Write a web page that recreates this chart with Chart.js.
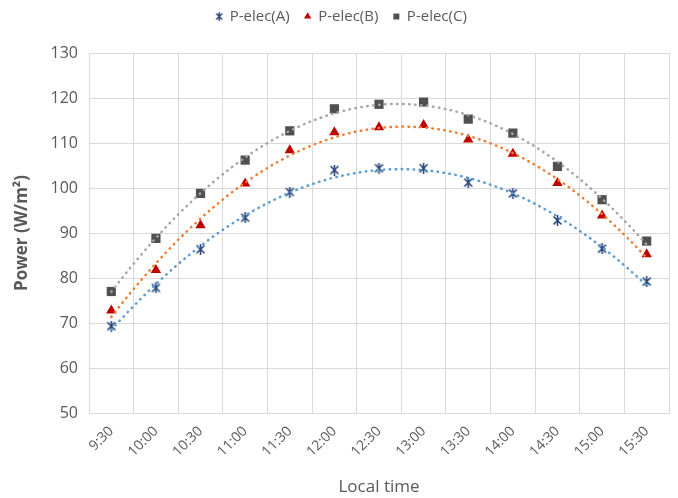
<!DOCTYPE html>
<html>
<head>
<meta charset="utf-8">
<script src="https://cdn.jsdelivr.net/npm/chart.js@4.4.1/dist/chart.umd.min.js"></script>
<style>
  html, body { margin: 0; padding: 0; background: #fff; }
  #wrap { width: 678px; height: 498px; }
</style>
</head>
<body>
<div id="wrap"><canvas id="chart" width="678" height="498"></canvas></div>
<script>
// --- Data ---
const timeLabels = ['9:30', '10:00', '10:30', '11:00', '11:30', '12:00', '12:30',
                    '13:00', '13:30', '14:00', '14:30', '15:00', '15:30'];
const pElecA = [69.3, 77.8, 86.4, 93.4, 99.1, 104.0, 104.4, 104.4, 101.2, 98.8, 92.8, 86.5, 79.2];
const pElecB = [72.8, 81.8, 91.7, 101.0, 108.4, 112.4, 113.5, 114.0, 110.8, 107.6, 101.1, 93.9, 85.3];
const pElecC = [77.0, 88.8, 98.8, 106.2, 112.7, 117.6, 118.6, 119.1, 115.3, 112.2, 104.8, 97.4, 88.2];
const yTicks = [50, 60, 70, 80, 90, 100, 110, 120, 130];

const GRID = '#D9D9D9';
const TEXT = '#595959';
Chart.defaults.font.family = '"Open Sans", Lato, sans-serif';
Chart.defaults.color = TEXT;

// Excel-style "star" marker: X with a vertical bar
function starMarker(color, size, lw) {
    const c = document.createElement('canvas');
    c.width = size; c.height = size;
    const g = c.getContext('2d');
    const a = 1, b = size - 1, m = size / 2;
    g.strokeStyle = color;
    g.lineWidth = lw;
    g.beginPath();
    g.moveTo(a + 0.5, a + 0.5); g.lineTo(b - 0.5, b - 0.5);
    g.moveTo(b - 0.5, a + 0.5); g.lineTo(a + 0.5, b - 0.5);
    g.moveTo(m, 0); g.lineTo(m, size);
    g.stroke();
    return c;
}

// polynomial (order 2) trendline, least squares over the series, like Excel's
function quadTrend(values) {
    let s = [0, 0, 0, 0, 0], t = [0, 0, 0];
    values.forEach((y, x) => {
        for (let k = 0; k < 5; k++) s[k] += Math.pow(x, k);
        for (let k = 0; k < 3; k++) t[k] += y * Math.pow(x, k);
    });
    const m = [[s[0], s[1], s[2], t[0]], [s[1], s[2], s[3], t[1]], [s[2], s[3], s[4], t[2]]];
    for (let i = 0; i < 3; i++) {
        for (let j = i + 1; j < 3; j++) {
            const f = m[j][i] / m[i][i];
            for (let k = i; k < 4; k++) m[j][k] -= f * m[i][k];
        }
    }
    const c = [0, 0, 0];
    for (let i = 2; i >= 0; i--) {
        let v = m[i][3];
        for (let k = i + 1; k < 3; k++) v -= m[i][k] * c[k];
        c[i] = v / m[i][i];
    }
    const pts = [];
    const last = values.length - 1;
    for (let x = 0; x <= last + 1e-9; x += 0.125) pts.push({ x, y: c[0] + c[1] * x + c[2] * x * x });
    return pts;
}

const toXY = arr => arr.map((y, x) => ({ x, y }));

function trendSet(values, color) {
    return {
        label: 'trend', data: quadTrend(values), xAxisID: 'xl', order: 0,
        borderColor: color, borderWidth: 2.5, borderDash: [0.5, 5.5], borderCapStyle: 'round',
        pointRadius: 0, fill: false, tension: 0
    };
}

// legend block takes the strip above the plot; items nudged a little
const legendSpace = {
    id: 'legendSpace',
    beforeInit(chart) {
        const lg = chart.legend;
        const fit = lg.fit, draw = lg.draw;
        lg.fit = function () { fit.call(this); this.height = 53; };
        lg.draw = function () {
            this.ctx.save();
            this.ctx.translate(7, -6);
            draw.call(this);
            this.ctx.restore();
        };
    }
};

new Chart(document.getElementById('chart'), {
    type: 'line',
    data: {
        labels: timeLabels,
        datasets: [
            { label: 'P-elec(A)', data: toXY(pElecA), xAxisID: 'xl', order: 1, showLine: false,
              pointStyle: starMarker('#264478', 11, 1.6), pointRadius: 5, borderColor: '#264478', backgroundColor: '#264478' },
            { label: 'P-elec(B)', data: toXY(pElecB), xAxisID: 'xl', order: 1, showLine: false,
              pointStyle: 'triangle', pointRadius: 6, borderWidth: 0, borderColor: '#C00000', backgroundColor: '#C00000' },
            { label: 'P-elec(C)', data: toXY(pElecC), xAxisID: 'xl', order: 1, showLine: false,
              pointStyle: 'rect', pointRadius: 6.5, borderWidth: 0, borderColor: '#505050', backgroundColor: '#505050' },
            trendSet(pElecA, '#5B9BD5'),
            trendSet(pElecB, '#ED7D31'),
            trendSet(pElecC, '#A5A5A5')
        ]
    },
    options: {
        responsive: false,
        animation: false,
        layout: { padding: { left: 0, right: 9, top: 0, bottom: 0 } },
        plugins: {
            tooltip: { enabled: false },
            legend: {
                position: 'top',
                labels: {
                    usePointStyle: true, boxWidth: 6, boxHeight: 6, padding: 15,
                    font: { size: 15 }, color: TEXT,
                    filter: item => item.datasetIndex < 3,
                    generateLabels: chart => Chart.defaults.plugins.legend.labels.generateLabels(chart).map(l => {
                        if (l.datasetIndex === 0) l.pointStyle = starMarker('#264478', 9, 1.4);
                        return l;
                    })
                }
            }
        },
        scales: {
            x: {
                type: 'category',
                offset: true,
                grid: { offset: true, color: GRID, drawTicks: false },
                border: { color: GRID },
                ticks: { minRotation: 45, maxRotation: 45, padding: 10, font: { size: 14 }, color: TEXT },
                title: { display: true, text: 'Local time', font: { size: 17 }, color: TEXT, padding: { top: 4, bottom: 1 } },
                afterFit: s => { s.height = 85; }
            },
            xl: { type: 'linear', display: false, min: -0.5, max: timeLabels.length - 0.5 },
            y: {
                min: yTicks[0], max: yTicks[yTicks.length - 1],
                afterBuildTicks: s => { s.ticks = yTicks.map(v => ({ value: v })); },
                grid: { color: GRID, drawTicks: false },
                border: { color: GRID },
                ticks: { padding: 11, font: { size: 16 }, color: TEXT },
                title: { display: true, text: 'Power (W/m²)', font: { size: 17, weight: 'bold' }, color: TEXT, padding: { top: 12, bottom: 0 } },
                afterFit: s => { s.width = 89; }
            }
        }
    },
    plugins: [legendSpace]
});
</script>
</body>
</html>
